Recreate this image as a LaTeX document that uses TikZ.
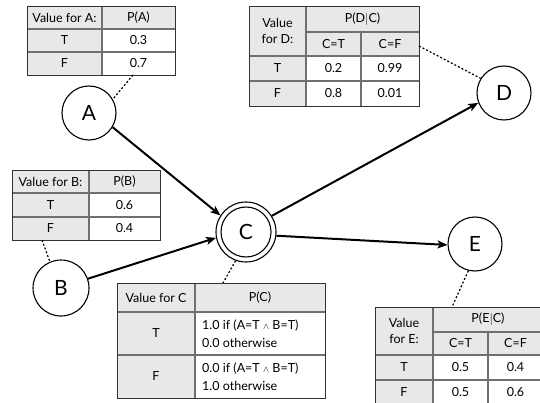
\documentclass[tikz,border=0pt]{standalone}
\usepackage{fontspec}
\setmainfont{Lato}
\usetikzlibrary{arrows.meta}
\definecolor{cellgray}{HTML}{E8E8E8}
\definecolor{gridgray}{HTML}{707070}
\definecolor{bordergray}{HTML}{333333}
\begin{document}
\begin{tikzpicture}[x=1pt,y=-1pt,
  tx/.style={font=\fontsize{12.5}{14}\selectfont, inner sep=0pt},
  txl/.style={font=\fontsize{12.5}{18}\selectfont, inner sep=0pt, anchor=west, align=left},
  frame/.style={draw=bordergray, line width=1.3pt, inner sep=0pt, anchor=north west},
  gridl/.style={draw=gridgray, line width=1.2pt},
  var/.style={circle, draw, line width=1.1pt, font=\fontsize{21}{24}\selectfont, inner sep=0pt},
  edge/.style={line width=2pt, -{Stealth[length=10pt,width=8pt,inset=2.5pt]}},
  dot/.style={line width=1.2pt, dash pattern=on 2pt off 2pt}]
\useasboundingbox (0,0) rectangle (540,403);
\fill[white] (0,0) rectangle (540,403);
\clip (0,0) rectangle (540,403);

% ---------- Table A ----------
\fill[cellgray] (27,6) rectangle (102,75);
\fill[cellgray] (102,6) rectangle (175,29);
\draw[gridl] (102,6) -- (102,75) (27,29) -- (175,29) (27,52) -- (175,52);
\node[frame, minimum width=148pt, minimum height=69pt] (tA) at (27,6) {};
\node[tx] (a1) at (64.5,17.5) {Value for A:};
\node[tx] (a2) at (138.5,17.5) {P(A)};
\node[tx] (a3) at (64.5,40.5) {T};
\node[tx] (a4) at (138.5,40.5) {0.3};
\node[tx] (a5) at (64.5,63.5) {F};
\node[tx] (a6) at (138.5,63.5) {0.7};
\coordinate (tAd) at (133,75);

% ---------- Table B ----------
\fill[cellgray] (12,170) rectangle (89,240);
\fill[cellgray] (89,170) rectangle (160,193);
\draw[gridl] (89,170) -- (89,240) (12,193) -- (160,193) (12,217) -- (160,217);
\node[frame, minimum width=148pt, minimum height=70pt] (tB) at (12,170) {};
\node[tx] (b1) at (50.5,181.5) {Value for B:};
\node[tx] (b2) at (124.5,181.5) {P(B)};
\node[tx] (b3) at (50.5,205) {T};
\node[tx] (b4) at (124.5,205) {0.6};
\node[tx] (b5) at (50.5,228.5) {F};
\node[tx] (b6) at (124.5,228.5) {0.4};
\coordinate (tBd) at (42,240);

% ---------- Table C ----------
\fill[cellgray] (117,283) rectangle (195,398);
\fill[cellgray] (195,283) rectangle (325,312);
\draw[gridl] (195,283) -- (195,398) (117,312) -- (325,312) (117,355) -- (325,355);
\node[frame, minimum width=208pt, minimum height=115pt] (tC) at (117,283) {};
\node[tx] (c1) at (156,297.5) {Value for C};
\node[tx] (c2) at (260,297.5) {P(C)};
\node[tx] (c3) at (156,333.5) {T};
\node[txl] (c4) at (202,333.5) {1.0 if (A=T $\scriptstyle\wedge$ B=T)\\0.0 otherwise};
\node[tx] (c5) at (156,376.5) {F};
\node[txl] (c6) at (202,376.5) {0.0 if (A=T $\scriptstyle\wedge$ B=T)\\1.0 otherwise};
\coordinate (tCu) at (223,283);

% ---------- Table D ----------
\fill[cellgray] (249,6) rectangle (306,106);
\fill[cellgray] (306,6) rectangle (419,56);
\draw[gridl] (306,6) -- (306,106) (361,32) -- (361,106)
  (306,32) -- (419,32) (249,56) -- (419,56) (249,81) -- (419,81);
\node[frame, minimum width=170pt, minimum height=100pt] (tD) at (249,6) {};
\node[tx, align=center, font=\fontsize{12.5}{16}\selectfont] (d1) at (277.5,31) {Value\\for D:};
\node[tx] (d2) at (362.5,19) {P(D$|$C)};
\node[tx] (d3) at (333.5,44) {C=T};
\node[tx] (d4) at (390,44) {C=F};
\node[tx] (d5) at (277.5,68.5) {T};
\node[tx] (d6) at (333.5,68.5) {0.2};
\node[tx] (d7) at (390,68.5) {0.99};
\node[tx] (d8) at (277.5,93.5) {F};
\node[tx] (d9) at (333.5,93.5) {0.8};
\node[tx] (d10) at (390,93.5) {0.01};
\coordinate (tDr) at (419,46);

% ---------- Table E ----------
\fill[cellgray] (375,307) rectangle (433,405);
\fill[cellgray] (433,307) rectangle (543,355);
\draw[gridl] (433,307) -- (433,405) (488,332) -- (488,405)
  (433,332) -- (543,332) (375,355) -- (543,355) (375,380) -- (543,380);
\node[frame, minimum width=168pt, minimum height=98pt] (tE) at (375,307) {};
\node[tx, align=center, font=\fontsize{12.5}{16}\selectfont] (e1) at (404,331) {Value\\for E:};
\node[tx] (e2) at (488,319.5) {P(E$|$C)};
\node[tx] (e3) at (460.5,343.5) {C=T};
\node[tx] (e4) at (515.5,343.5) {C=F};
\node[tx] (e5) at (404,367.5) {T};
\node[tx] (e6) at (460.5,367.5) {0.5};
\node[tx] (e7) at (515.5,367.5) {0.4};
\node[tx] (e8) at (404,392.5) {F};
\node[tx] (e9) at (460.5,392.5) {0.5};
\node[tx] (e10) at (515.5,392.5) {0.6};
\coordinate (tEu) at (452,307);

% ---------- Variables ----------
\node[var, minimum size=54pt] (A) at (89,113) {A};
\node[var, minimum size=56pt] (B) at (61,288) {B};
\node[var, minimum size=60pt] (C) at (246,232) {C};
\draw[line width=1.1pt] (C.center) circle (25);
\node[var, minimum size=54pt] (D) at (504,93) {D};
\node[var, minimum size=54pt] (E) at (475,244) {E};

% ---------- Dotted links ----------
\draw[dot] (tAd) -- (A.30);
\draw[dot] (tBd) -- (B.113);
\draw[dot] (C.250) -- (tCu);
\draw[dot] (tDr) -- (D.148);
\draw[dot] (E.256) -- (tEu);

% ---------- Arrows ----------
\draw[edge] (A.-31) -- (C.147);
\draw[edge] (B.19) -- (C.-169);
\draw[edge] (C.32) -- (D.-159);
\draw[edge] (C.-7) -- (E.-178);
\end{tikzpicture}
\end{document}
